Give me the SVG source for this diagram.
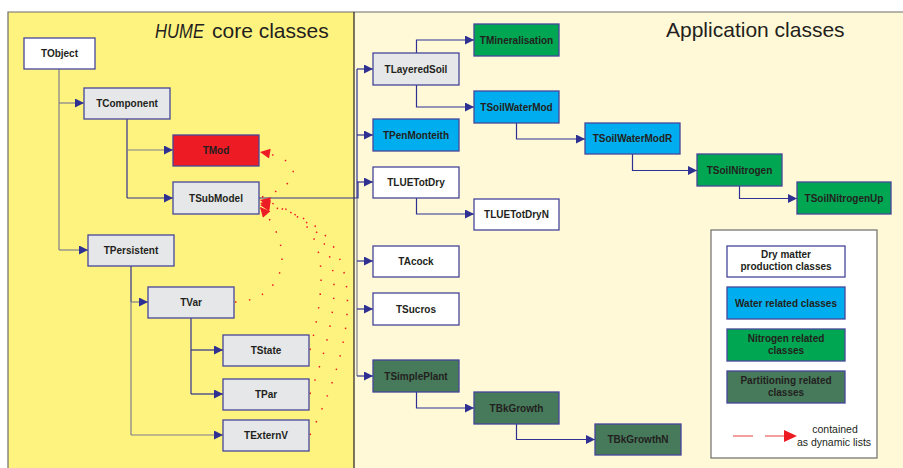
<svg xmlns="http://www.w3.org/2000/svg" width="903" height="468" viewBox="0 0 903 468">
<defs>
<style>
.n{stroke:#45459a;stroke-width:1.3}
.w{fill:#ffffff}.gr{fill:#e6e7e8}.r{fill:#ed1c24}.b{fill:#00aeef}.g{fill:#00a651}.d{fill:#467a5a}
.t{font-family:"Liberation Sans",Arial,sans-serif;font-weight:bold;font-size:10px;fill:#231f20;text-anchor:middle}
.c{fill:none;stroke:#2e3192;stroke-width:1.2}
.cg{fill:none;stroke:#7f7f8f;stroke-width:1.2}
.a{marker-end:url(#ah)}
.dot{fill:none;stroke:#ed1c24;stroke-width:1.5;stroke-dasharray:1.5 12.5;stroke-linecap:butt;marker-end:url(#rh)}
</style>
<marker id="ah" viewBox="0 0 10 10" refX="10" refY="5" markerWidth="9" markerHeight="9" markerUnits="userSpaceOnUse" orient="auto"><path d="M0,0L10,5L0,10z" fill="#2e3192"/></marker>
<marker id="rh" viewBox="0 0 10 10" refX="10" refY="5" markerWidth="11" markerHeight="10" markerUnits="userSpaceOnUse" orient="auto"><path d="M0,0L10,5L0,10z" fill="#ed1c24"/></marker>
</defs>
<rect x="0" y="0" width="903" height="468" fill="#ffffff"/>
<rect x="8" y="12" width="346" height="460" fill="#fff380"/>
<rect x="354" y="12" width="553" height="460" fill="#fff9d7"/>
<path d="M8,469V12H903" fill="none" stroke="#6d6d6d" stroke-width="1.2"/>
<line x1="354" y1="12" x2="354" y2="468" stroke="#231f20" stroke-width="1.2"/>
<text x="155" y="38" font-family="'Liberation Sans',Arial,sans-serif" font-style="italic" font-size="20" fill="#231f20" textLength="49" lengthAdjust="spacingAndGlyphs">HUME</text>
<text x="212" y="38" font-family="'Liberation Sans',Arial,sans-serif" font-size="21" fill="#231f20">core classes</text>
<text x="666" y="37" font-family="'Liberation Sans',Arial,sans-serif" font-size="21" fill="#231f20">Application classes</text>

<g id="connectors">
<path class="cg" d="M59,69V250"/>
<path class="cg a" d="M59,103H84"/>
<path class="cg a" d="M59,250H88"/>
<path class="c" d="M127,119V198"/>
<path class="cg a" d="M127,150H173"/>
<path class="c a" d="M127,198H173"/>
<path class="c" d="M131,266V302"/>
<path class="cg" d="M131,302V435"/>
<path class="cg a" d="M131,302H148"/>
<path class="cg a" d="M131,435H223"/>
<path class="c" d="M191,318V394"/>
<path class="c a" d="M191,350H223"/>
<path class="c a" d="M191,394H223"/>
<path class="c" d="M259,198H358V182"/>
<path class="c" d="M357,69V198"/>
<path class="cg" d="M357,198V376"/>
<path class="c a" d="M357,69H373"/>
<path class="c a" d="M357,135H373"/>
<path class="c a" d="M357,182H373"/>
<path class="c a" d="M357,261H373"/>
<path class="c a" d="M357,309H373"/>
<path class="c a" d="M357,376H373"/>
<path class="c a" d="M416.5,53V40H474"/>
<path class="c a" d="M416.5,85V107H474"/>
<path class="c a" d="M516.5,123V139H585"/>
<path class="c a" d="M632.5,154V170.5H697"/>
<path class="c a" d="M739.5,186V198.5H797"/>
<path class="c a" d="M416.5,198V214H474"/>
<path class="c a" d="M416.5,392V408H474"/>
<path class="c a" d="M516.5,424V439.5H595"/>
<path class="dot" d="M262,197C300,185 308,160 260,152"/>
<path class="dot" d="M235,302C285,300 298,250 260,207"/>
<path class="dot" d="M310,350C330,270 328,215 260,200"/>
<path class="dot" d="M310,394C345,300 352,220 260,203"/>
<path class="dot" d="M310,435C362,330 372,220 260,205"/>
</g>

<g id="TObject"><rect class="n w" x="24" y="38" width="71" height="31"/><text class="t" x="59.5" y="57">TObject</text></g>
<g id="TComponent"><rect class="n gr" x="84" y="88" width="86" height="31"/><text class="t" x="127" y="107">TComponent</text></g>
<g id="TMod"><rect class="n r" x="173" y="135" width="86" height="31"/><text class="t" x="216" y="154">TMod</text></g>
<g id="TSubModel"><rect class="n gr" x="173" y="182" width="86" height="32"/><text class="t" x="216" y="201.5">TSubModel</text></g>
<g id="TPersistent"><rect class="n gr" x="88" y="235" width="86" height="31"/><text class="t" x="131" y="254">TPersistent</text></g>
<g id="TVar"><rect class="n gr" x="148" y="287" width="86" height="31"/><text class="t" x="191" y="306">TVar</text></g>
<g id="TState"><rect class="n gr" x="223" y="335" width="86" height="31"/><text class="t" x="266" y="354">TState</text></g>
<g id="TPar"><rect class="n gr" x="223" y="379" width="86" height="31"/><text class="t" x="266" y="398">TPar</text></g>
<g id="TExternV"><rect class="n gr" x="223" y="420" width="86" height="31"/><text class="t" x="266" y="439">TExternV</text></g>

<g id="TLayeredSoil"><rect class="n gr" x="373" y="53" width="86" height="32"/><text class="t" x="416" y="72.5">TLayeredSoil</text></g>
<g id="TMineralisation"><rect class="n g" x="474" y="24" width="85" height="32"/><text class="t" x="516.5" y="43.5">TMineralisation</text></g>
<g id="TSoilWaterMod"><rect class="n b" x="474" y="91" width="85" height="32"/><text class="t" x="516.5" y="110.5">TSoilWaterMod</text></g>
<g id="TPenMonteith"><rect class="n b" x="373" y="119" width="86" height="32"/><text class="t" x="416" y="138.5">TPenMonteith</text></g>
<g id="TLUETotDry"><rect class="n w" x="373" y="167" width="86" height="31"/><text class="t" x="416" y="186">TLUETotDry</text></g>
<g id="TLUETotDryN"><rect class="n w" x="474" y="199" width="85" height="31"/><text class="t" x="516.5" y="218">TLUETotDryN</text></g>
<g id="TSoilWaterModR"><rect class="n b" x="585" y="123" width="95" height="31"/><text class="t" x="632.5" y="142">TSoilWaterModR</text></g>
<g id="TSoilNitrogen"><rect class="n g" x="697" y="154" width="85" height="32"/><text class="t" x="739.5" y="173.5">TSoilNitrogen</text></g>
<g id="TSoilNitrogenUp"><rect class="n g" x="797" y="182" width="94" height="32"/><text class="t" x="844" y="201.5">TSoilNitrogenUp</text></g>
<g id="TAcock"><rect class="n w" x="373" y="246" width="86" height="31"/><text class="t" x="416" y="265">TAcock</text></g>
<g id="TSucros"><rect class="n w" x="373" y="293" width="86" height="32"/><text class="t" x="416" y="312.5">TSucros</text></g>
<g id="TSimplePlant"><rect class="n d" x="373" y="360" width="86" height="32"/><text class="t" x="416" y="379.5">TSimplePlant</text></g>
<g id="TBkGrowth"><rect class="n d" x="474" y="392" width="85" height="32"/><text class="t" x="516.5" y="411.5">TBkGrowth</text></g>
<g id="TBkGrowthN"><rect class="n d" x="595" y="424" width="86" height="31"/><text class="t" x="638" y="443">TBkGrowthN</text></g>

<g id="legend">
<rect x="711" y="230" width="166" height="228" fill="#ffffff" stroke="#6d6d6d" stroke-width="1.2"/>
<rect class="n w" x="727" y="246" width="118" height="31"/><text class="t" x="786" y="258">Dry matter</text><text class="t" x="786" y="270">production classes</text>
<rect class="n b" x="727" y="287" width="118" height="32"/><text class="t" x="786" y="306.5">Water related classes</text>
<rect class="n g" x="727" y="329" width="118" height="32"/><text class="t" x="786" y="342">Nitrogen related</text><text class="t" x="786" y="354">classes</text>
<rect class="n d" x="727" y="371" width="118" height="32"/><text class="t" x="786" y="384">Partitioning related</text><text class="t" x="786" y="396">classes</text>
<path d="M733,436H786" fill="none" stroke="#f08080" stroke-width="1.5" stroke-dasharray="20 12"/>
<path d="M784,430L797,436L784,442z" fill="#ed1c24"/>
<text x="835" y="433" font-family="'Liberation Sans',Arial,sans-serif" font-size="10.5" fill="#231f20" text-anchor="middle">contained</text>
<text x="834" y="446" font-family="'Liberation Sans',Arial,sans-serif" font-size="10.5" fill="#231f20" text-anchor="middle">as dynamic lists</text>
</g>
</svg>
